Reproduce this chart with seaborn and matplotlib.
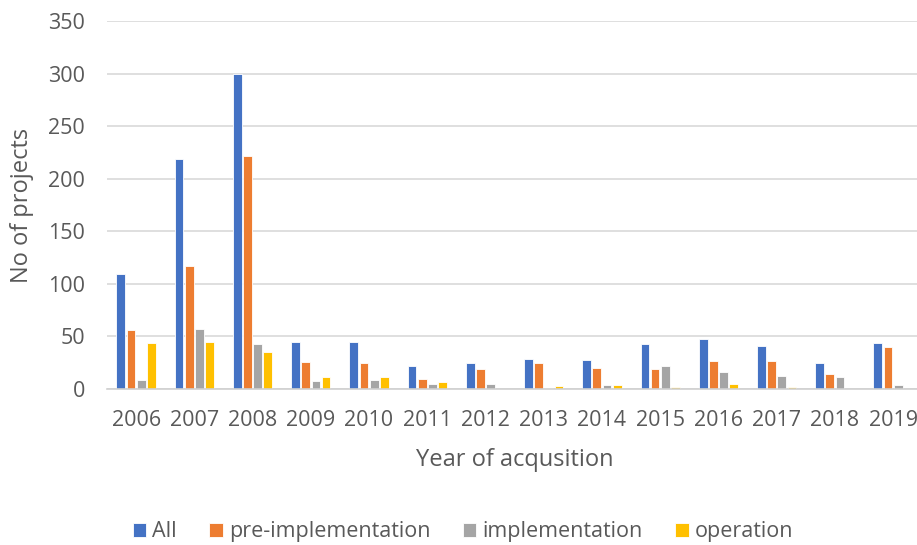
import pandas as pd
import seaborn as sns
import matplotlib.pyplot as plt

years = ['2006', '2007', '2008', '2009', '2010', '2011', '2012',
         '2013', '2014', '2015', '2016', '2017', '2018', '2019']
all_projects = [109, 219, 300, 45, 45, 22, 25, 29, 28, 43, 48, 41, 25, 44]
pre_impl = [56, 117, 222, 26, 25, 10, 19, 25, 20, 19, 27, 27, 14, 40]
impl = [9, 57, 43, 8, 9, 5, 5, 1, 4, 22, 16, 12, 11, 4]
operation = [44, 45, 35, 11, 11, 7, 0, 3, 4, 2, 5, 2, 0, 0]

series = ['All', 'pre-implementation', 'implementation', 'operation']
colors = ['#4472C4', '#ED7D31', '#A5A5A5', '#FFC000']

df = pd.DataFrame({'year': years, 'All': all_projects,
                   'pre-implementation': pre_impl,
                   'implementation': impl, 'operation': operation})
long = df.melt(id_vars='year', var_name='stage', value_name='count')

sns.set_style('white')
plt.rcParams['font.family'] = ['Open Sans', 'DejaVu Sans']

fig = plt.figure(figsize=(9.17, 5.45), dpi=100)
ax = fig.add_axes([0.1167, 0.2862, 0.889, 0.6752])
sns.barplot(data=long, x='year', y='count', hue='stage', hue_order=series,
            palette=colors, saturation=1, width=0.7, gap=0.14,
            edgecolor='white', linewidth=0.6, ax=ax, legend=True)

ax.set_ylim(0, 350)
ax.set_yticks(range(0, 351, 50))
ax.yaxis.grid(True, color='#D9D9D9', linewidth=1.2)
ax.set_axisbelow(True)
for s in ['top', 'right', 'left']:
    ax.spines[s].set_visible(False)
ax.spines['bottom'].set_color('#D0D0D0')
ax.spines['bottom'].set_linewidth(1.2)
ax.tick_params(axis='x', length=0, labelsize=15.5, colors='#595959', pad=15)
ax.tick_params(axis='y', length=0, labelsize=15.5, colors='#595959', pad=16)
ax.set_xlabel('Year of acqusition', fontsize=17, color='#595959', labelpad=12)
ax.set_ylabel('No of projects', fontsize=17, color='#595959', labelpad=10)

ax.legend(loc='center', bbox_to_anchor=(0.505, 0.024),
          bbox_transform=fig.transFigure, ncol=4,
          frameon=False, fontsize=15.5, handlelength=0.62, handleheight=0.62,
          columnspacing=1.5, handletextpad=0.3, labelcolor='#595959')

fig.savefig('out.png', dpi=100)
